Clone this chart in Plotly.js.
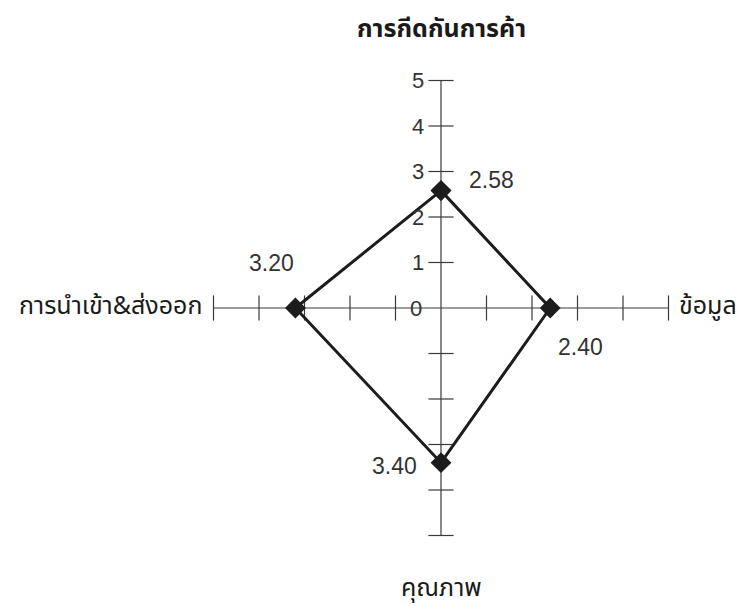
<!DOCTYPE html>
<html>
<head>
<meta charset="utf-8">
<script src="https://cdn.plot.ly/plotly-3.0.1.min.js"></script>
<style>html,body{margin:0;padding:0;background:#fff;}#chart{width:739px;height:606px;}</style>
</head>
<body>
<div id="chart"></div>
<script>
// ---- data ----
const categories = ["การกีดกันการค้า", "ข้อมูล", "คุณภาพ", "การนำเข้า&ส่งออก"];
const values = [2.58, 2.40, 3.40, 3.20];
const valueLabels = ["2.58", "2.40", "3.40", "3.20"];
const tickValues = [1, 2, 3, 4, 5];
const tickLabels = ["1", "2", "3", "4", "5"];
const zeroLabel = "0";
const axisMax = 5;

// direction of each category axis: top, right, bottom, left
const dirs = [[0, 1], [1, 0], [0, -1], [-1, 0]];

const thaiFont = "Noto Sans Thai, Loma, Garuda, Tahoma, DejaVu Sans, sans-serif";
const numFont = "Liberation Sans, Arial, sans-serif";
const axisColor = "#3a3a3a";

const traces = [];
// axis lines
traces.push({x: [-axisMax, axisMax], y: [0, 0], mode: "lines", line: {color: axisColor, width: 1.2}, hoverinfo: "skip"});
traces.push({x: [0, 0], y: [-axisMax, axisMax], mode: "lines", line: {color: axisColor, width: 1.2}, hoverinfo: "skip"});
// ticks on vertical axis
const vt = [];
tickValues.forEach(t => { vt.push(t); vt.push(-t); });
traces.push({x: vt.map(() => 0), y: vt, mode: "markers",
  marker: {symbol: "line-ew", size: 18, line: {color: axisColor, width: 1.2}}, hoverinfo: "skip"});
// ticks on horizontal axis
traces.push({x: vt, y: vt.map(() => 0), mode: "markers",
  marker: {symbol: "line-ns", size: 18, line: {color: axisColor, width: 1.2}}, hoverinfo: "skip"});

// polygon
const px = values.map((v, i) => dirs[i][0] * v);
const py = values.map((v, i) => dirs[i][1] * v);
traces.push({x: px.concat([px[0]]), y: py.concat([py[0]]), mode: "lines+markers",
  line: {color: "#1c1c1c", width: 3},
  marker: {symbol: "diamond", size: 16, color: "#1c1c1c"}, hoverinfo: "skip"});

const annotations = [];
// tick labels on vertical axis
tickValues.forEach((t, i) => {
  annotations.push({x: 0, y: t, xref: "x", yref: "y", text: tickLabels[i], showarrow: false,
    xanchor: "right", yanchor: "middle", xshift: -15, font: {family: numFont, size: 22, color: "#333"}});
});
annotations.push({x: 0, y: 0, xref: "x", yref: "y", text: zeroLabel, showarrow: false,
  xanchor: "right", yanchor: "middle", xshift: -17, font: {family: numFont, size: 22, color: "#333"}});

// category labels
const catStyle = [
  {xanchor: "center", yanchor: "middle", xshift: 0, yshift: 52},
  {xanchor: "left", yanchor: "middle", xshift: 8, yshift: 2},
  {xanchor: "center", yanchor: "middle", xshift: 0, yshift: -52},
  {xanchor: "right", yanchor: "middle", xshift: -10, yshift: 2}
];
categories.forEach((c, i) => {
  annotations.push(Object.assign({x: dirs[i][0] * axisMax, y: dirs[i][1] * axisMax, xref: "x", yref: "y",
    text: i === 0 ? "<b>" + c + "</b>" : c, showarrow: false,
    font: {family: thaiFont, size: 25, color: "#1a1a1a"}}, catStyle[i]));
});

// value labels
const valStyle = [
  {xshift: 50, yshift: 11},
  {xshift: 30, yshift: -39},
  {xshift: -47, yshift: -3},
  {xshift: -24, yshift: 45}
];
values.forEach((v, i) => {
  annotations.push(Object.assign({x: px[i], y: py[i], xref: "x", yref: "y", text: valueLabels[i], showarrow: false,
    xanchor: "center", yanchor: "middle", font: {family: numFont, size: 23, color: "#333"}}, valStyle[i]));
});

const scale = 45.5, cx = 441, cy = 308, W = 739, H = 606;
const layout = {
  width: W, height: H, margin: {l: 0, r: 0, t: 0, b: 0},
  paper_bgcolor: "#fff", plot_bgcolor: "#fff", showlegend: false,
  xaxis: {range: [(0 - cx) / scale, (W - cx) / scale], visible: false, fixedrange: true},
  yaxis: {range: [(cy - H) / scale, cy / scale], visible: false, fixedrange: true},
  annotations: annotations
};
Plotly.newPlot("chart", traces, layout, {displayModeBar: false, staticPlot: true});
</script>
</body>
</html>
